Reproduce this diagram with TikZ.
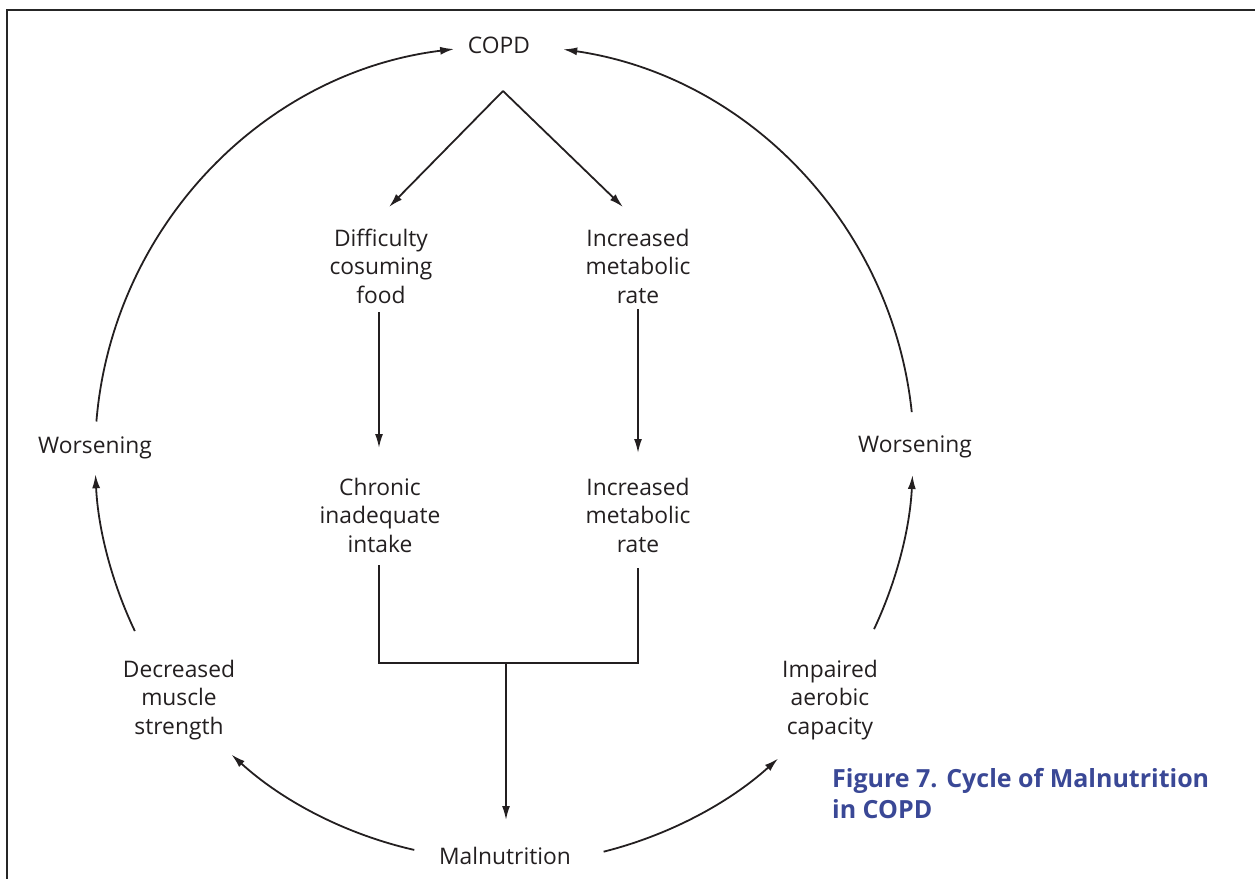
\documentclass[tikz,border=0pt]{standalone}
\usepackage{fontspec}
\setmainfont{Open Sans}
\usetikzlibrary{arrows.meta,calc}
\definecolor{ink}{RGB}{35,31,32}
\definecolor{capblue}{RGB}{58,72,150}
\begin{document}
\begin{tikzpicture}[x=1pt,y=-1pt,
  lbl/.style={font=\fontsize{22.8}{28.5}\selectfont, text=ink, align=center, inner sep=0pt},
  conn/.style={draw=ink, line width=1.8pt},
  arr/.style={conn, -{Latex[length=14pt,width=8pt]}},
  cycarr/.style={arr}
]
\useasboundingbox (0,0) rectangle (1255,878);
\clip (0,0) rectangle (1255,878);
\draw[line width=2.8pt, draw=black!85] (7,10) rectangle (1300,950);

% nodes
\node[lbl] (copd) at (499,45) {COPD};
\node[lbl] (diff) at (381,266) {Difficulty\\cosuming\\food};
\node[lbl] (incA) at (638,266) {Increased\\metabolic\\rate};
\node[lbl] (chron) at (380,515) {Chronic\\inadequate\\intake};
\node[lbl] (incB) at (638,515) {Increased\\metabolic\\rate};
\node[lbl] (malnu) at (505,856) {Malnutrition};
\node[lbl] (decr) at (179,700) {Decreased\\muscle\\strength};
\node[lbl] (impa) at (830,700) {Impaired\\aerobic\\capacity};
\node[lbl] (worL) at (95,448) {Worsening};
\node[lbl] (worR) at (915,447) {Worsening};
\node[font=\fontsize{25}{31}\selectfont\bfseries, text=capblue, align=left, inner sep=0pt, anchor=west] (cap) at (832,794) {Figure 7. Cycle of Malnutrition\\in COPD};

% COPD split
\coordinate (peak) at (503,91);
\coordinate (diffT) at (389,207);
\coordinate (incAT) at (623,207);
\draw[arr] (peak) -- (diffT);
\draw[arr] (peak) -- (incAT);

% vertical arrows
\coordinate (d1) at (379,312);
\coordinate (d2) at (379,448);
\coordinate (i1) at (638,309);
\coordinate (i2) at (638,453);
\draw[arr] (d1) -- (d2);
\draw[arr] (i1) -- (i2);

% bracket
\coordinate (bl) at (379,565);
\coordinate (br) at (638,568);
\coordinate (bj) at (506,663);
\coordinate (bt) at (506,820);
\draw[conn] (bl) |- (bj) -| (br);
\draw[arr] (bj) -- (bt);

% cycle arcs
\coordinate (o) at (504,455);
\coordinate (a1) at ($(o)+(184.7:409)$);
\coordinate (a2) at ($(o)+(-6:410)$);
\coordinate (a3) at ($(o)+(154.5:409)$);
\coordinate (a4) at ($(o)+(25.2:409)$);
\coordinate (a5) at ($(o)+(102.8:405)$);
\coordinate (a6) at ($(o)+(75.9:409)$);
\draw[cycarr] (a1) arc[start angle=184.7, end angle=263, radius=409];
\draw[cycarr] (a2) arc[start angle=-6, end angle=-81.7, radius=410];
\draw[cycarr] (a3) arc[start angle=154.5, end angle=177.3, radius=409];
\draw[cycarr] (a4) arc[start angle=25.2, end angle=2.8, radius=409];
\draw[cycarr] (a5) arc[start angle=102.8, end angle=132.3, radius=405];
\draw[cycarr] (a6) arc[start angle=75.9, end angle=47.9, radius=409];
\end{tikzpicture}
\end{document}
